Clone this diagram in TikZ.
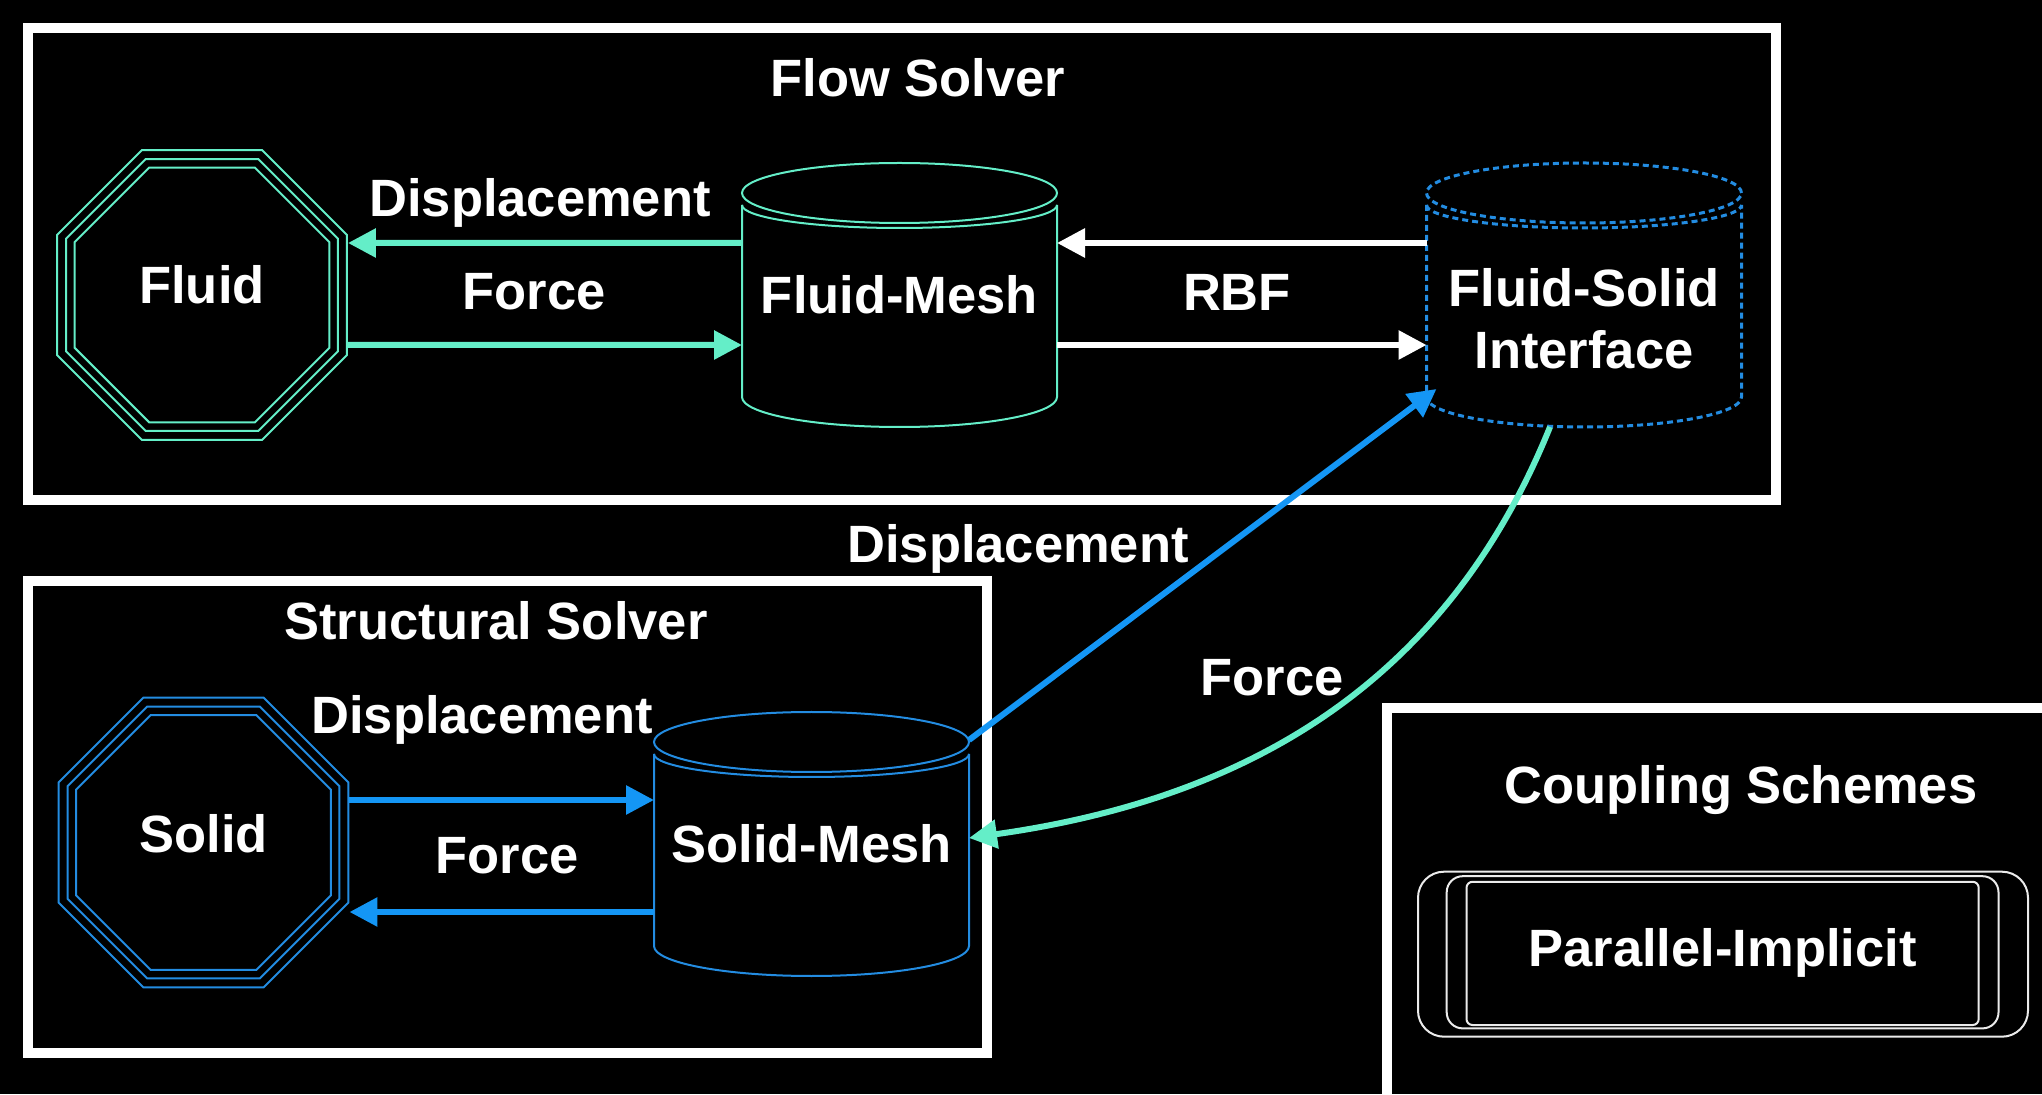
\documentclass[tikz,border=0pt]{standalone}
\usepackage{fontspec}
\setmainfont{Liberation Sans}
\usepackage{xcolor}
\usetikzlibrary{arrows.meta, shapes, positioning}
\definecolor{aqua}{RGB}{100,238,200}
\definecolor{meshblue}{RGB}{35,140,225}
\definecolor{arrowblue}{RGB}{20,150,245}
\definecolor{schemegray}{RGB}{235,235,235}
\tikzset{octnode/.style={regular polygon, regular polygon sides=8, draw=#1, line width=1pt, inner sep=0pt},
meshnode/.style={minimum width=157.5pt, minimum height=132pt, inner sep=0pt, outer sep=0pt},
solverbox/.style={draw=white, line width=5pt},
labeltext/.style={text=white, font=\fontsize{26.25}{31}\selectfont\bfseries},
schemebox/.style={draw=schemegray, line width=1pt, inner sep=0pt},
flowarrow/.style={-{Triangle[length=14pt, width=14pt]}, line width=3pt, draw=#1}}

% cylinder outline round a mesh node
\newcommand{\meshcyl}[2]{%
\draw[#2] ([yshift=-15pt]#1.north) ellipse [x radius=78.75pt, y radius=15pt];
\draw[#2] ([yshift=-21pt]#1.north west) arc [start angle=180, end angle=360, x radius=78.75pt, y radius=11.5pt];
\draw[#2] ([yshift=-21pt]#1.north west) -- ([yshift=15pt]#1.south west) arc [start angle=180, end angle=360, x radius=78.75pt, y radius=15pt] -- ([yshift=-21pt]#1.north east);
}

\begin{document}
\begin{tikzpicture}[line join=miter]
                \path[use as bounding box, fill=black] (0pt, 0pt) rectangle (1021pt, 547pt);
                \clip (0pt, 0pt) rectangle (1021pt, 547pt);

                % Solver frames
                \draw[solverbox] (14pt, 533pt) rectangle (888pt, 297pt);
                \draw[solverbox] (14pt, 256.25pt) rectangle (493.25pt, 20.75pt);
                \draw[solverbox] (693.5pt, 193pt) rectangle (1040pt, -20pt);
                \node[labeltext] (flowtitle) at (459pt, 508pt) {Flow Solver};
                \node[labeltext] (structtitle) at (248pt, 236.5pt) {Structural Solver};
                \node[labeltext] (coupletitle) at (870.5pt, 152pt) {Coupling Schemes};

                % Fluid and solid
                \node[octnode=aqua, labeltext, text depth=11pt, minimum size=156.9pt] (fluid) at (101pt, 399.5pt) {Fluid};
                \node[octnode=aqua, minimum size=147.2pt] (fluidmid) at (fluid.center) {};
                \node[octnode=aqua, minimum size=137.9pt] (fluidin) at (fluid.center) {};
                \node[octnode=meshblue, labeltext, text depth=9pt, minimum size=156.9pt] (solid) at (101.75pt, 125.75pt) {Solid};
                \node[octnode=meshblue, minimum size=147.2pt] (solidmid) at (solid.center) {};
                \node[octnode=meshblue, minimum size=137.9pt] (solidin) at (solid.center) {};

                % Meshes
                \node[meshnode, labeltext] (fmesh) at (449.75pt, 399.5pt) {Fluid-Mesh};
                \meshcyl{fmesh}{draw=aqua, line width=1pt}
                \node[meshnode] (iface) at (792pt, 399.5pt) {};
                \meshcyl{iface}{draw=meshblue, line width=1.5pt, dash pattern=on 3pt off 2pt}
                \node[labeltext, align=center] (ifacetext) at ([yshift=-12pt]iface.center) {Fluid-Solid\\Interface};
                \node[meshnode, labeltext] (smesh) at (405.75pt, 125pt) {Solid-Mesh};
                \meshcyl{smesh}{draw=meshblue, line width=1pt}

                % Scheme
                \node[schemebox, rounded corners=13pt, minimum width=305pt, minimum height=82.5pt] (schemeout) at (861.5pt, 69.9pt) {};
                \node[schemebox, rounded corners=8pt, minimum width=275.9pt, minimum height=76.1pt] (schememid) at (861.3pt, 70.85pt) {};
                \node[schemebox, labeltext, rounded corners=3pt, minimum width=256.1pt, minimum height=71.6pt] (parimp) at (861.3pt, 70.3pt) {Parallel-Implicit};

                % Transfers
                \draw[flowarrow=aqua] ([yshift=26pt]fmesh.west) -- ([yshift=26pt]fluid.east);
                \draw[flowarrow=aqua] ([yshift=-25pt]fluid.east) -- ([yshift=-25pt]fmesh.west);
                \draw[flowarrow=white] ([yshift=26pt]iface.west) -- ([yshift=26pt]fmesh.east);
                \draw[flowarrow=white] ([yshift=-25pt]fmesh.east) -- ([yshift=-25pt]iface.west);
                \draw[flowarrow=arrowblue] ([yshift=21.25pt]solid.east) -- ([yshift=21.25pt]solid.east -| smesh.west);
                \draw[flowarrow=arrowblue] ([yshift=-34.75pt]solid.east -| smesh.west) -- ([yshift=-34.75pt]solid.east);
                \draw[flowarrow=arrowblue] ([yshift=-14pt]smesh.north east) -- ([xshift=5pt, yshift=19pt]iface.south west);
                \draw[flowarrow=aqua] ([xshift=-17pt]iface.south) to[out=-112, in=8] ([yshift=3pt]smesh.east);

                % Labels
                \node[labeltext] (disptop) at (270pt, 445.5pt) {Displacement};
                \node[labeltext] (forcetop) at (267pt, 401pt) {Force};
                \node[labeltext] (rbf) at (618.5pt, 401pt) {RBF};
                \node[labeltext] (dispbot) at (241pt, 187pt) {Displacement};
                \node[labeltext] (forcebot) at (253.5pt, 119pt) {Force};
                \node[labeltext] (dispdiag) at (509pt, 272.5pt) {Displacement};
                \node[labeltext] (forcecurve) at (636pt, 208pt) {Force};
            \end{tikzpicture}
\end{document}
